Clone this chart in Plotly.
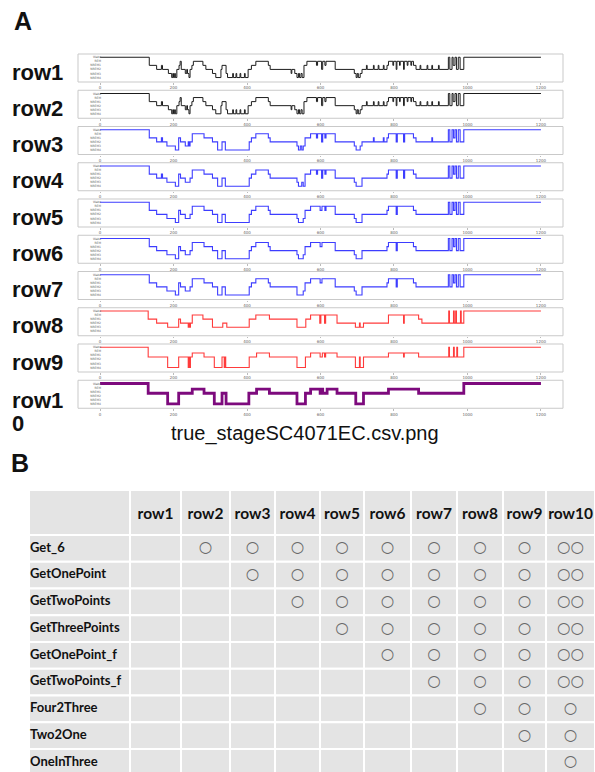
import plotly.graph_objects as go

W, H = 595, 772

# ---------------- data: hypnogram change points (epoch, stage code) ----------------
# stage code: 5=Wake, 4=REM, 3=NREM1, 2=NREM2, 1=NREM3, 0=NREM4
stage_ticks = [0, 1, 2, 3, 4, 5]
stage_labels = ["NREM4", "NREM3", "NREM2", "NREM1", "REM", "Wake"]
x_ticks = [0, 200, 400, 600, 800, 1000, 1200]

row1 = [(0,5),(134,3),(154,2),(167,3),(170,2),(186,1),(195,0),(198,1),(200,0),(203,1),(205,0),
        (209,2),(215,3),(218,4),(221,2),(232,1),(236,2),(238,1),(242,0),(245,2),(250,3),(254,4),
        (280,3),(288,2),(306,1),(315,0),(329,2),(332,3),(343,1),(347,0),(361,1),(363,0),(370,1),
        (372,0),(381,1),(383,0),(393,1),(395,0),(403,2),(412,3),(424,4),(458,3),(463,2),(520,1),
        (522,2),(530,1),(536,0),(540,1),(543,0),(547,1),(550,0),(555,3),(563,4),(589,3),(592,4),
        (603,2),(606,4),(612,3),(615,4),(640,2),(692,1),(697,0),(700,1),(703,0),(708,1),(713,2),
        (725,3),(727,2),(744,3),(746,2),(757,3),(759,2),(771,3),(773,2),(781,3),(785,4),(797,3),
        (799,4),(806,2),(808,4),(815,3),(817,4),(826,2),(828,4),(836,3),(838,4),(846,3),(848,4),
        (853,3),(860,2),(871,3),(873,2),(890,3),(892,2),(903,3),(905,2),(921,3),(923,2),(948,5),
        (952,2),(958,5),(961,3),(966,5),(970,2),(975,5),(980,2),(990,5),(1200,5)]

row2 = [(0,5),(134,3),(154,2),(167,3),(170,2),(186,1),(195,0),(198,1),(200,0),(203,1),(205,0),
        (209,2),(215,3),(218,4),(221,2),(232,1),(236,2),(238,1),(242,0),(245,2),(250,3),(254,4),
        (280,3),(288,2),(306,1),(315,0),(329,2),(332,3),(343,1),(347,0),(361,1),(363,0),(370,1),
        (372,0),(381,1),(383,0),(393,1),(395,0),(403,2),(412,3),(424,4),(458,3),(463,2),(520,1),
        (522,2),(530,1),(536,0),(540,1),(543,0),(547,1),(550,0),(555,3),(563,4),(589,3),(592,4),
        (603,2),(606,4),(612,3),(615,4),(640,2),(692,1),(697,0),(700,1),(703,0),(708,1),(713,2),
        (725,3),(727,2),(744,3),(746,2),(757,3),(759,2),(771,3),(773,2),(781,3),(785,4),(797,3),
        (799,4),(806,2),(808,4),(815,3),(817,4),(826,2),(828,4),(836,3),(838,4),(846,3),(848,4),
        (853,3),(860,2),(871,3),(873,2),(890,3),(892,2),(903,3),(905,2),(921,3),(923,2),(948,5),
        (952,2),(958,5),(961,3),(966,5),(970,2),(975,5),(980,2),(990,5),(1200,5)]

row3 = [(0,5),(134,3),(154,2),(167,3),(170,2),(182,1),(205,0),(214,3),(219,2),(232,1),(240,2),
        (242,1),(245,2),(251,4),(283,3),(306,2),(320,0),(332,2),(341,0),(406,2),(412,3),(424,4),
        (458,3),(463,2),(536,1),(540,0),(545,1),(549,0),(553,1),(558,3),(573,4),(589,3),(592,4),
        (603,2),(606,4),(612,3),(615,4),(640,2),(692,1),(697,0),(708,1),(713,2),(744,3),(746,2),
        (771,3),(773,2),(781,3),(785,4),(806,2),(809,4),(826,2),(829,4),(853,3),(860,2),(903,3),
        (905,2),(948,5),(952,2),(958,5),(962,3),(966,5),(970,2),(975,5),(980,2),(990,5),(1200,5)]

row4 = [(0,5),(134,3),(154,2),(167,3),(170,2),(182,1),(205,0),(214,3),(219,2),(232,1),(245,2),
        (251,4),(283,3),(306,2),(320,0),(332,2),(341,0),(406,2),(412,3),(424,4),(458,3),(463,2),
        (536,1),(540,0),(549,1),(553,0),(558,3),(573,4),(589,3),(592,4),(603,2),(606,4),(612,3),
        (615,4),(640,2),(692,1),(697,0),(713,2),(781,3),(785,4),(806,2),(809,4),(826,2),(829,4),
        (853,3),(860,2),(948,5),(952,2),(958,5),(962,3),(966,5),(970,2),(975,5),(980,2),(990,5),
        (1200,5)]

row5 = [(0,5),(134,3),(154,2),(182,1),(205,0),(214,3),(219,2),(232,1),(245,2),(251,4),(283,3),
        (306,2),(320,0),(332,2),(341,0),(406,2),(412,3),(424,4),(458,3),(463,2),(536,1),(540,0),
        (553,1),(558,3),(573,4),(599,3),(604,4),(612,3),(615,4),(640,2),(692,1),(697,0),(713,2),
        (781,3),(785,4),(806,2),(809,4),(853,3),(860,2),(948,5),(952,2),(958,5),(962,3),(966,5),
        (970,2),(975,5),(980,2),(990,5),(1200,5)]

row6 = [(0,5),(134,3),(154,2),(182,1),(205,0),(214,3),(219,2),(232,1),(245,2),(251,4),(283,3),
        (306,2),(320,0),(332,2),(341,0),(406,2),(412,3),(424,4),(458,3),(463,2),(536,1),(540,0),
        (553,1),(558,3),(573,4),(599,3),(604,4),(640,2),(692,1),(697,0),(713,2),(781,3),(785,4),
        (806,2),(809,4),(853,3),(860,2),(948,5),(952,2),(958,5),(962,3),(966,5),(970,2),(975,5),
        (980,2),(990,5),(1200,5)]

row7 = [(0,5),(134,3),(154,2),(182,1),(205,0),(214,3),(219,2),(232,1),(245,2),(251,4),(283,3),
        (306,2),(320,0),(332,2),(341,0),(406,2),(412,3),(424,4),(458,3),(463,2),(536,0),(553,1),
        (558,3),(573,4),(599,3),(604,4),(640,2),(692,1),(697,0),(713,2),(781,3),(785,4),(806,2),
        (809,4),(853,3),(860,2),(948,5),(952,2),(958,5),(962,3),(966,5),(970,2),(975,5),(980,2),
        (990,5),(1200,5)]

row8 = [(0,5),(131,3),(154,2),(184,1),(214,3),(219,2),(240,1),(242,2),(244,1),(246,2),(251,4),
        (280,3),(306,1),(334,2),(345,1),(406,3),(424,4),(461,3),(536,1),(560,3),(573,4),(598,2),
        (601,4),(611,2),(614,4),(645,2),(695,1),(706,2),(708,1),(717,2),(785,4),(826,2),(828,4),
        (867,3),(876,2),(949,5),(951,2),(962,5),(964,2),(968,5),(970,2),(981,5),(983,2),(990,5),
        (1200,5)]

row9 = [(0,5),(131,2.6),(184,0),(214,2.6),(240,0),(242,2.6),(244,0),(246,2.6),(251,3.6),
        (283,2.6),(311,0),(332,2.6),(338,0),(340,2.6),(342,0),(406,2.6),(426,3.6),(461,2.6),
        (536,0),(559,2.6),(573,3.6),(599,2.6),(605,3.6),(611,2.6),(614,3.6),(645,2.6),(695,0),
        (706,2.6),(708,0),(717,2.6),(785,3.6),(826,2.6),(828,3.6),(867,2.6),(949,5),(951,2.6),
        (962,5),(964,2.6),(971,5),(973,2.6),(990,5),(1200,5)]

row10 = [(0,5),(131,2.6),(184,0),(214,2.6),(251,3.6),(283,2.6),(311,0),(332,2.6),(343,0),
         (405,2.6),(426,3.6),(461,2.6),(536,0),(559,2.6),(573,3.6),(599,2.6),(603,3.6),(606,2.6),
         (618,3.6),(645,2.6),(696,0),(717,2.6),(785,3.6),(867,2.6),(990,5),(1200,5)]

row_names = ["row1", "row2", "row3", "row4", "row5", "row6", "row7", "row8", "row9", "row10"]
row_series = [row1, row2, row3, row4, row5, row6, row7, row8, row9, row10]
row_colors = ["#1c1c1c", "#1c1c1c", "#3d3dff", "#3d3dff", "#3d3dff", "#3d3dff", "#3d3dff",
              "#ff3b3b", "#ff3b3b", "#7d0a7d"]
row_widths = [1, 1, 1.1, 1.1, 1.1, 1.1, 1.1, 1.1, 1.1, 2.8]
panel_title = "true_stageSC4071EC.csv.png"

# ---------------- table data ----------------
methods = ["Get_6", "GetOnePoint", "GetTwoPoints", "GetThreePoints", "GetOnePoint_f",
           "GetTwoPoints_f", "Four2Three", "Two2One", "OneInThree"]
O = "○"
OO = "○○"
marks = [
    ["", O, O, O, O, O, O, O, O, OO],
    ["", "", O, O, O, O, O, O, O, OO],
    ["", "", "", O, O, O, O, O, O, OO],
    ["", "", "", "", O, O, O, O, O, OO],
    ["", "", "", "", "", O, O, O, O, OO],
    ["", "", "", "", "", "", O, O, O, OO],
    ["", "", "", "", "", "", "", O, O, O],
    ["", "", "", "", "", "", "", "", O, O],
    ["", "", "", "", "", "", "", "", "", O],
]

# ---------------- figure ----------------
fig = go.Figure()
layout = dict()
shapes = []
annotations = []

box_left, box_right = 78, 563
box_top0, box_step, box_h = 54.0, 36.25, 28.0
zero_px = 101  # pixel where epoch 0 sits
label_font = dict(family="Liberation Sans", size=22, color="#111")

for i, (name, series) in enumerate(zip(row_names, row_series)):
    k = i + 1
    sfx = "" if k == 1 else str(k)
    xs = [p[0] for p in series]
    ys = [p[1] for p in series]
    fig.add_trace(go.Scatter(
        x=xs, y=ys, mode="lines",
        line=dict(shape="hv", color=row_colors[i], width=row_widths[i]),
        xaxis=f"x{sfx}", yaxis=f"y{sfx}", showlegend=False, hoverinfo="skip"))
    top = box_top0 + box_step * i
    layout[f"xaxis{sfx}"] = dict(
        domain=[box_left / W, box_right / W], anchor=f"y{sfx}", range=[-60, 1260],
        tickvals=x_ticks, ticktext=[str(v) for v in x_ticks],
        tickfont=dict(size=4, color="#666", family="DejaVu Sans"),
        ticks="outside", ticklen=1.5, tickcolor="#bbbbbb", tickwidth=0.6,
        showgrid=False, zeroline=False, showline=False, fixedrange=True)
    layout[f"yaxis{sfx}"] = dict(
        domain=[1 - (top + box_h) / H, 1 - top / H], anchor="free",
        position=zero_px / W, range=[-1.1, 5.8],
        tickvals=stage_ticks, ticktext=stage_labels,
        tickfont=dict(size=3, color="#666", family="DejaVu Sans"),
        ticks="", showgrid=False, zeroline=False, showline=False, fixedrange=True)
    shapes.append(dict(type="rect", xref=f"x{sfx} domain", yref=f"y{sfx} domain",
                       x0=0, x1=1, y0=0, y1=1, line=dict(color="#c9c9c9", width=1)))
    if name != "row10":
        annotations.append(dict(text=f"<b>{name}</b>", x=10 / W, xref="paper", xanchor="left",
                                y=1 - (top + box_h / 2 + 4) / H, yref="paper", yanchor="middle",
                                showarrow=False, font=label_font))
    else:
        annotations.append(dict(text="<b>row1</b>", x=10 / W, xref="paper", xanchor="left",
                                y=1 - (top + box_h / 2 + 6) / H, yref="paper", yanchor="middle",
                                showarrow=False, font=label_font))
        annotations.append(dict(text="<b>0</b>", x=10 / W, xref="paper", xanchor="left",
                                y=1 - (top + box_h / 2 + 29) / H, yref="paper", yanchor="middle",
                                showarrow=False, font=label_font))

annotations.append(dict(text="<b>A</b>", x=12 / W, xref="paper", xanchor="left",
                        y=1 - 21 / H, yref="paper", yanchor="middle", showarrow=False,
                        font=dict(family="Liberation Sans", size=25, color="#111")))
annotations.append(dict(text="<b>B</b>", x=9 / W, xref="paper", xanchor="left",
                        y=1 - 463 / H, yref="paper", yanchor="middle", showarrow=False,
                        font=dict(family="Liberation Sans", size=25, color="#111")))
annotations.append(dict(text=panel_title, x=305 / W, xref="paper", xanchor="center",
                        y=1 - 433 / H, yref="paper", yanchor="middle", showarrow=False,
                        font=dict(family="Liberation Sans", size=20, color="#111")))

# ---------------- table (own axis pair, units = pixels inside the table) ----------------
col_widths = [101, 51, 49, 45, 45, 44, 47, 46, 46, 43, 49]
header_h, row_h = 45, 26.75
tbl_left, tbl_top = 29, 490
tbl_w = sum(col_widths)
tbl_h = H - tbl_top

col_edges = [0]
for w_ in col_widths:
    col_edges.append(col_edges[-1] + w_)
row_edges = [0, header_h] + [header_h + row_h * (j + 1) for j in range(len(methods))]

for r in range(len(row_edges) - 1):
    for c in range(len(col_widths)):
        shapes.append(dict(type="rect", xref="x11", yref="y11", layer="below",
                           x0=col_edges[c], x1=col_edges[c + 1],
                           y0=row_edges[r], y1=row_edges[r + 1],
                           fillcolor="#e4e4e4", line=dict(color="white", width=2)))

col_centers = [(col_edges[c] + col_edges[c + 1]) / 2 for c in range(len(col_widths))]
row_centers = [(row_edges[r] + row_edges[r + 1]) / 2 for r in range(len(row_edges) - 1)]

fig.add_trace(go.Scatter(
    x=col_centers[1:], y=[row_centers[0] + 3] * 10, text=row_names, mode="text",
    textposition="middle center",
    textfont=dict(family="Lato", size=15.5, color="#111", weight="bold"),
    xaxis="x11", yaxis="y11", showlegend=False, hoverinfo="skip"))

fig.add_trace(go.Scatter(
    x=[1] * len(methods), y=row_centers[1:], text=methods, mode="text",
    textposition="middle right",
    textfont=dict(family="Lato", size=13, color="#111", weight="bold"),
    xaxis="x11", yaxis="y11", showlegend=False, hoverinfo="skip"))

mx, my, mt = [], [], []
for r, mrow in enumerate(marks):
    for c, m in enumerate(mrow):
        if m:
            mx.append(col_centers[c + 1])
            my.append(row_centers[r + 1])
            mt.append(m)
fig.add_trace(go.Scatter(
    x=mx, y=my, text=mt, mode="text", textposition="middle center",
    textfont=dict(family="DejaVu Sans", size=15.5, color="#6a6a6a"),
    xaxis="x11", yaxis="y11", showlegend=False, hoverinfo="skip"))

layout["xaxis11"] = dict(domain=[tbl_left / W, (tbl_left + tbl_w) / W], anchor="y11",
                         range=[0, tbl_w], visible=False, fixedrange=True)
layout["yaxis11"] = dict(domain=[0, 1 - tbl_top / H], anchor="x11",
                         range=[tbl_h, 0], visible=False, fixedrange=True)

fig.update_layout(**layout)
fig.update_layout(width=W, height=H, margin=dict(l=0, r=0, t=0, b=0),
                  paper_bgcolor="white", plot_bgcolor="white",
                  shapes=shapes, annotations=annotations, showlegend=False)

fig.write_html("out.html", config={"displayModeBar": False},
               post_script="document.body.style.margin='0';")
